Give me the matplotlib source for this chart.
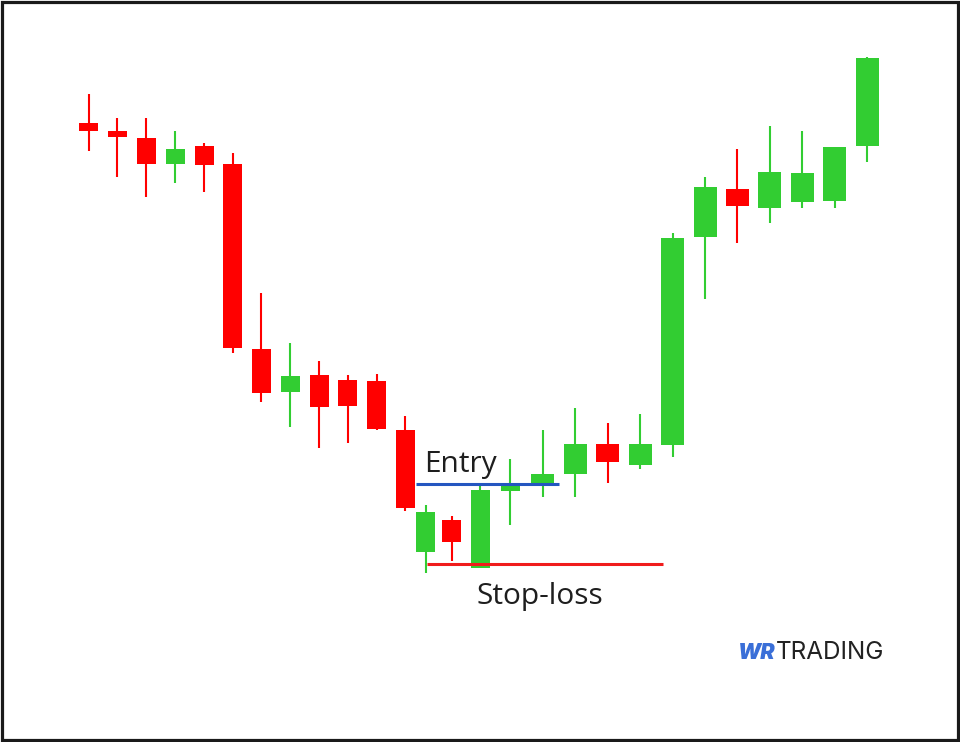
import numpy as np
import matplotlib.pyplot as plt
from matplotlib.patches import Rectangle

# Candle positions (time units) and OHLC prices
t = [8.87, 11.73, 14.63, 17.50, 20.40, 23.27, 26.13, 29.00, 31.90, 34.77,
     37.67, 40.50, 42.57, 45.17, 48.00, 51.00, 54.25, 57.50, 60.75, 64.00,
     67.25, 70.50, 73.70, 76.97, 80.20, 83.45, 86.70]
opens = [154.7, 152.8, 150.9, 144.6, 148.9, 144.6, 98.3, 87.5, 91.8, 90.6,
         90.2, 78.0, 47.6, 55.5, 43.6, 62.8, 64.7, 67.0, 74.4, 69.3,
         74.3, 126.3, 138.3, 133.5, 135.0, 135.3, 149.0]
highs = [162.0, 155.9, 156.0, 152.8, 149.8, 147.2, 112.3, 99.7, 95.3, 91.8,
         91.9, 81.6, 59.3, 56.4, 64.0, 70.8, 78.0, 83.4, 79.7, 82.0,
         127.2, 141.3, 148.2, 154.1, 152.8, 148.8, 171.3]
lows = [147.8, 141.3, 136.3, 139.7, 137.6, 97.3, 84.9, 78.8, 73.4, 74.8,
        78.0, 57.8, 42.2, 45.3, 43.4, 54.3, 61.3, 61.2, 64.8, 68.3,
        71.3, 110.7, 124.7, 129.7, 133.6, 133.4, 145.1]
closes = [152.8, 151.2, 144.4, 148.3, 144.3, 98.6, 87.2, 91.5, 83.8, 84.0,
          78.2, 58.4, 57.4, 49.9, 63.0, 64.8, 66.9, 74.4, 69.9, 74.4,
          125.9, 138.8, 133.9, 142.6, 142.3, 148.8, 171.0]

entry_price = 64.4
entry_span = (41.6, 55.9)
stop_price = 44.4
stop_span = (42.7, 66.3)

t = np.array(t)
opens = np.array(opens)
closes = np.array(closes)
highs = np.array(highs)
lows = np.array(lows)

up_color = '#32cd32'
down_color = '#ff0000'

fig = plt.figure(figsize=(9.6, 7.42), dpi=100)
ax = fig.add_axes([0, 0, 1, 1])
ax.set_xlim(0, 96)
ax.set_ylim(0, 185.5)
ax.axis('off')

colors = np.where(closes >= opens, up_color, down_color)
widths = np.where(t < 52, 1.9, 2.3)

ax.vlines(t, lows, highs, colors=colors, linewidth=1.5, zorder=2)
ax.bar(t, np.abs(closes - opens), bottom=np.minimum(opens, closes),
       width=widths, color=colors, linewidth=0, zorder=3)

# Entry and stop-loss levels
ax.hlines(entry_price, *entry_span, colors='#2456c0', linewidth=2.2, zorder=4)
ax.hlines(stop_price, *stop_span, colors='#f01c1c', linewidth=2.2, zorder=4)

ax.text(42.4, 67.6, 'Entry', fontsize=21.5, family='Open Sans',
        color='#1e1e1e', va='baseline', ha='left')
ax.text(47.7, 34.4, 'Stop-loss', fontsize=21.5, family='Open Sans',
        color='#1e1e1e', va='baseline', ha='left')

# logo
ax.text(73.8, 20.7, 'WR', fontsize=15.5, family='Inter', fontweight='black',
        style='italic', color='#3a6fd8', va='baseline', ha='left')
ax.text(77.6, 20.7, 'TRADING', fontsize=17.5, family='Inter',
        color='#222222', va='baseline', ha='left')

# frame around the picture
fig.patches.append(Rectangle((1.5 / 960, 2 / 742), 956 / 960, 738.5 / 742,
                             transform=fig.transFigure, fill=False,
                             edgecolor='#1a1a1a', linewidth=2.3))

fig.savefig('out.png', dpi=100)
